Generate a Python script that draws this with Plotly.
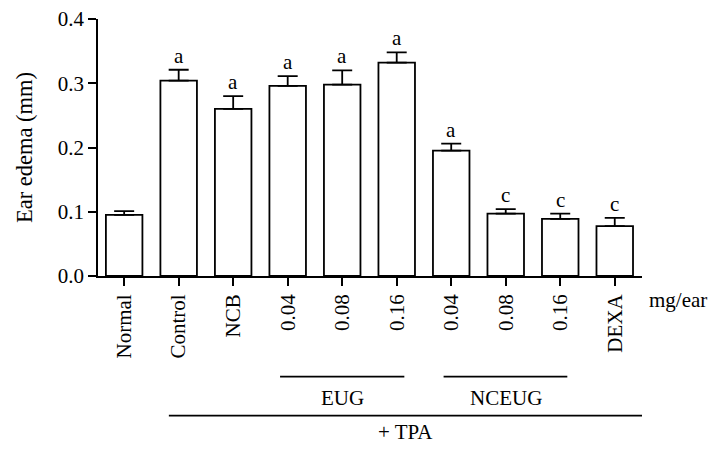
import plotly.graph_objects as go

# ---- data ----
tick_labels = ["Normal", "Control", "NCB", "0.04", "0.08", "0.16", "0.04", "0.08", "0.16", "DEXA"]
edema_mm = [0.095, 0.304, 0.260, 0.296, 0.298, 0.332, 0.195, 0.097, 0.089, 0.0775]
sem_mm = [0.006, 0.017, 0.020, 0.015, 0.022, 0.016, 0.011, 0.007, 0.008, 0.013]
sig_letters = ["", "a", "a", "a", "a", "a", "a", "c", "c", "c"]
y_ticks = [0.0, 0.1, 0.2, 0.3, 0.4]

FONT = "Liberation Serif"
FS = 21
W, H = 724, 453
L, R, T, B = 98, 82, 19, 177
plot_h = H - T - B
plot_w = W - L - R

def py(pix):
    """pixel row (from top of page) -> paper y"""
    return (H - B - pix) / plot_h

def px(pix):
    """pixel column -> paper x"""
    return (pix - L) / plot_w

x_idx = list(range(len(tick_labels)))

fig = go.Figure()
fig.add_trace(go.Bar(
    x=x_idx, y=edema_mm, width=0.67,
    marker=dict(color="white", line=dict(color="black", width=1.8)),
    error_y=dict(type="data", array=sem_mm, arrayminus=[0] * len(sem_mm),
                 symmetric=False, color="black", thickness=1.8, width=10),
    showlegend=False, hoverinfo="skip",
))

annotations = []
for i, (v, e, s) in enumerate(zip(edema_mm, sem_mm, sig_letters)):
    if s:
        annotations.append(dict(x=i, y=v + e, xref="x", yref="y", text=s, showarrow=False,
                                yanchor="bottom", yshift=0, font=dict(family=FONT, size=FS, color="black")))

# group labels below the axis
annotations += [
    dict(x=px(647), y=py(300), xref="paper", yref="paper", text="mg/ear", showarrow=False,
         xanchor="left", yanchor="middle", font=dict(family=FONT, size=FS, color="black")),
    dict(x=4, y=py(398), xref="x", yref="paper", text="EUG", showarrow=False,
         yanchor="middle", font=dict(family=FONT, size=FS, color="black")),
    dict(x=7, y=py(398), xref="x", yref="paper", text="NCEUG", showarrow=False,
         yanchor="middle", font=dict(family=FONT, size=FS, color="black")),
    dict(x=5.16, y=py(432), xref="x", yref="paper", text="+ TPA", showarrow=False,
         yanchor="middle", font=dict(family=FONT, size=FS, color="black")),
]

shapes = [
    dict(type="line", xref="x", yref="paper", x0=2.86, x1=5.14, y0=py(376.7), y1=py(376.7),
         line=dict(color="black", width=1.8)),
    dict(type="line", xref="x", yref="paper", x0=5.86, x1=8.13, y0=py(376.7), y1=py(376.7),
         line=dict(color="black", width=1.8)),
    dict(type="line", xref="x", yref="paper", x0=0.82, x1=9.5, y0=py(415.7), y1=py(415.7),
         line=dict(color="black", width=1.8)),
]

fig.update_layout(
    width=W, height=H,
    margin=dict(l=L, r=R, t=T, b=B, autoexpand=False),
    paper_bgcolor="white", plot_bgcolor="white",
    font=dict(family=FONT, size=FS, color="black"),
    annotations=annotations, shapes=shapes,
    xaxis=dict(range=[-0.48, 9.5], tickvals=x_idx, ticktext=tick_labels, tickangle=-90,
               automargin=False,
               showline=True, linecolor="black", linewidth=1.8, ticks="outside",
               ticklen=8, tickwidth=1.8, tickcolor="black", showgrid=False, zeroline=False,
               tickfont=dict(family=FONT, size=FS, color="black")),
    yaxis=dict(range=[0, 0.4], tickvals=y_ticks, tickformat=".1f", automargin=False,
               showline=True, linecolor="black", linewidth=1.8, ticks="outside",
               ticklen=8, tickwidth=1.8, tickcolor="black", showgrid=False, zeroline=False,
               tickfont=dict(family=FONT, size=FS, color="black"),
               title=dict(text="Ear edema (mm)", font=dict(family=FONT, size=22.5, color="black"),
                          standoff=19)),
)

fig.write_html("out.html", config={"displayModeBar": False},
               post_script="document.body.style.margin='0';document.body.style.overflow='hidden';")
